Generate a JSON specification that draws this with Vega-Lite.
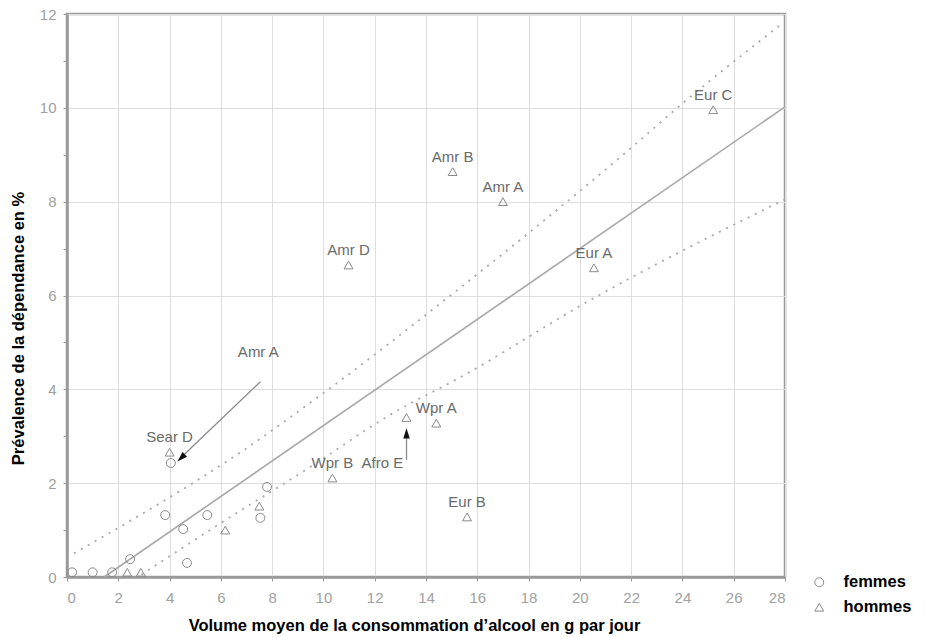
{
  "$schema": "https://vega.github.io/schema/vega-lite/v6.json",
  "width": 718,
  "height": 563,
  "autosize": "none",
  "padding": {"left": 67, "top": 14, "right": 141, "bottom": 60},
  "background": "white",
  "config": {
    "font": "Liberation Sans",
    "view": {"stroke": "#9a9a9a", "strokeWidth": 2.5},
    "axis": {
      "domainColor": "#9a9a9a",
      "domainWidth": 2.5,
      "labelColor": "#a0a0a0",
      "labelFontSize": 15,
      "labelFont": "Liberation Sans",
      "titleFont": "Liberation Sans",
      "titleFontSize": 16.5,
      "titleFontWeight": "bold",
      "titleColor": "#000000",
      "gridColor": "#dedede",
      "gridWidth": 1,
      "tickColor": "#9a9a9a",
      "tickSize": 4
    }
  },
  "datasets": {
    "fit": [
      {"x": 1.45, "y": 0},
      {"x": 28, "y": 10.02}
    ],
    "upper": [
      {"x": 0, "y": 0.42},
      {"x": 4.9, "y": 2.0},
      {"x": 6.5, "y": 2.56},
      {"x": 9.8, "y": 3.84},
      {"x": 15.3, "y": 6.15},
      {"x": 21.6, "y": 8.96},
      {"x": 24.3, "y": 10.23},
      {"x": 27.9, "y": 11.8}
    ],
    "lower": [
      {"x": 2.9, "y": 0.05},
      {"x": 3.6, "y": 0.3},
      {"x": 6.0, "y": 1.15},
      {"x": 9.5, "y": 2.35},
      {"x": 12.7, "y": 3.49},
      {"x": 15.35, "y": 4.26},
      {"x": 20.4, "y": 5.9},
      {"x": 28, "y": 8.05}
    ],
    "points": [
      {"sexe": "hommes", "region": "Eur C", "x": 25.2, "y": 9.96},
      {"sexe": "hommes", "region": "Amr B", "x": 15.04, "y": 8.64},
      {"sexe": "hommes", "region": "Amr A", "x": 17.0, "y": 8.0},
      {"sexe": "hommes", "region": "Amr D", "x": 10.98, "y": 6.65},
      {"sexe": "hommes", "region": "Eur A", "x": 20.55, "y": 6.59},
      {"sexe": "hommes", "region": "Wpr A", "x": 14.4, "y": 3.28},
      {"sexe": "hommes", "region": "", "x": 13.24, "y": 3.4},
      {"sexe": "hommes", "region": "Wpr B", "x": 10.35, "y": 2.11},
      {"sexe": "hommes", "region": "Eur B", "x": 15.6, "y": 1.28},
      {"sexe": "hommes", "region": "Sear D", "x": 4.0, "y": 2.66},
      {"sexe": "hommes", "region": "", "x": 6.17, "y": 1.0},
      {"sexe": "hommes", "region": "", "x": 7.5, "y": 1.51},
      {"sexe": "hommes", "region": "", "x": 2.35, "y": 0.1},
      {"sexe": "hommes", "region": "", "x": 2.88, "y": 0.1},
      {"sexe": "femmes", "region": "", "x": 4.05, "y": 2.43},
      {"sexe": "femmes", "region": "", "x": 3.83, "y": 1.32},
      {"sexe": "femmes", "region": "", "x": 5.47, "y": 1.32},
      {"sexe": "femmes", "region": "", "x": 4.53, "y": 1.02},
      {"sexe": "femmes", "region": "", "x": 7.8, "y": 1.92},
      {"sexe": "femmes", "region": "", "x": 7.54, "y": 1.26},
      {"sexe": "femmes", "region": "", "x": 4.68, "y": 0.3},
      {"sexe": "femmes", "region": "", "x": 2.46, "y": 0.38},
      {"sexe": "femmes", "region": "", "x": 0.2, "y": 0.1},
      {"sexe": "femmes", "region": "", "x": 1.0, "y": 0.1},
      {"sexe": "femmes", "region": "", "x": 1.76, "y": 0.1}
    ],
    "notes": [
      {"note": "Amr A", "lx": 7.46, "ly": 4.8, "x": 7.54, "y": 4.16, "x2": 4.55, "y2": 2.6, "hx": 4.45, "hy": 2.54},
      {"note": "Afro E", "lx": 12.3, "ly": 2.43, "x": 13.24, "y": 2.5, "x2": 13.24, "y2": 3.0, "hx": 13.24, "hy": 3.06}
    ]
  },
  "layer": [
    {
      "data": {"name": "fit"},
      "mark": {"type": "line", "color": "#a8a8a8", "strokeWidth": 1.6},
      "encoding": {
        "x": {
          "field": "x", "type": "quantitative",
          "scale": {"domain": [0, 28], "nice": false, "zero": false},
          "axis": {
            "title": "Volume moyen de la consommation d’alcool en g par jour",
            "values": [0,1,2,3,4,5,6,7,8,9,10,11,12,13,14,15,16,17,18,19,20,21,22,23,24,25,26,27,28],
            "labelExpr": "datum.value % 2 == 0 ? datum.label : ''",
            "gridOpacity": {"condition": {"test": "datum.value % 2 == 0", "value": 1}, "value": 0.25},
            "labelPadding": 9,
            "titlePadding": 12,
            "titleX": 347
          }
        },
        "y": {
          "field": "y", "type": "quantitative",
          "scale": {"domain": [0, 12], "nice": false, "zero": false},
          "axis": {
            "title": "Prévalence de la dépendance en %",
            "values": [0,1,2,3,4,5,6,7,8,9,10,11,12],
            "labelExpr": "datum.value % 2 == 0 ? datum.label : ''",
            "gridOpacity": {"condition": {"test": "datum.value % 2 == 0", "value": 1}, "value": 0},
            "labelPadding": 7,
            "titlePadding": 13,
            "titleY": 314
          }
        }
      }
    },
    {
      "data": {"name": "upper"},
      "mark": {"type": "line", "color": "#a8a8a8", "strokeWidth": 1.8, "strokeDash": [2, 6], "interpolate": "monotone"},
      "encoding": {
        "x": {"field": "x", "type": "quantitative"},
        "y": {"field": "y", "type": "quantitative"}
      }
    },
    {
      "data": {"name": "lower"},
      "mark": {"type": "line", "color": "#a8a8a8", "strokeWidth": 1.8, "strokeDash": [2, 6], "interpolate": "monotone"},
      "encoding": {
        "x": {"field": "x", "type": "quantitative"},
        "y": {"field": "y", "type": "quantitative"}
      }
    },
    {
      "data": {"name": "notes"},
      "mark": {"type": "rule", "color": "#8a8a8a", "strokeWidth": 1.3},
      "encoding": {
        "x": {"field": "x", "type": "quantitative"},
        "y": {"field": "y", "type": "quantitative"},
        "x2": {"field": "x2"},
        "y2": {"field": "y2"}
      }
    },
    {
      "data": {"name": "notes"},
      "transform": [{"filter": "datum.note == 'Amr A'"}],
      "mark": {"type": "point", "shape": "M-0.32,0.5L0,-0.5L0.32,0.5Z", "filled": true, "color": "#111111", "size": 420, "angle": 226, "opacity": 1},
      "encoding": {
        "x": {"field": "hx", "type": "quantitative", "title": "Volume moyen de la consommation d’alcool en g par jour"},
        "y": {"field": "hy", "type": "quantitative", "title": "Prévalence de la dépendance en %"}
      }
    },
    {
      "data": {"name": "notes"},
      "transform": [{"filter": "datum.note == 'Afro E'"}],
      "mark": {"type": "point", "shape": "M-0.32,0.5L0,-0.5L0.32,0.5Z", "filled": true, "color": "#111111", "size": 420, "angle": 0, "opacity": 1},
      "encoding": {
        "x": {"field": "hx", "type": "quantitative", "title": "Volume moyen de la consommation d’alcool en g par jour"},
        "y": {"field": "hy", "type": "quantitative", "title": "Prévalence de la dépendance en %"}
      }
    },
    {
      "data": {"name": "notes"},
      "mark": {"type": "text", "fontSize": 15, "color": "#6a6a6a", "font": "Liberation Sans"},
      "encoding": {
        "x": {"field": "lx", "type": "quantitative", "title": "Volume moyen de la consommation d’alcool en g par jour"},
        "y": {"field": "ly", "type": "quantitative", "title": "Prévalence de la dépendance en %"},
        "text": {"field": "note"}
      }
    },
    {
      "data": {"name": "points"},
      "mark": {"type": "point", "filled": false, "color": "#8a8a8a", "size": 80, "strokeWidth": 1, "opacity": 1},
      "encoding": {
        "x": {"field": "x", "type": "quantitative"},
        "y": {"field": "y", "type": "quantitative"},
        "shape": {
          "field": "sexe", "type": "nominal",
          "scale": {"domain": ["femmes", "hommes"], "range": ["circle", "triangle-up"]},
          "legend": {
            "title": null,
            "orient": "none",
            "legendX": 744,
            "legendY": 560,
            "labelFontSize": 16.5,
            "labelFontWeight": "bold",
            "labelColor": "#000000",
            "labelFont": "Liberation Sans",
            "symbolSize": 80,
            "symbolStrokeColor": "#8a8a8a",
            "symbolFillColor": "transparent",
            "symbolStrokeWidth": 1,
            "rowPadding": 8,
            "labelOffset": 16
          }
        }
      }
    },
    {
      "data": {"name": "points"},
      "mark": {"type": "text", "fontSize": 15, "color": "#6a6a6a", "font": "Liberation Sans", "dy": -15},
      "encoding": {
        "x": {"field": "x", "type": "quantitative"},
        "y": {"field": "y", "type": "quantitative"},
        "text": {"field": "region"}
      }
    }
  ]
}
